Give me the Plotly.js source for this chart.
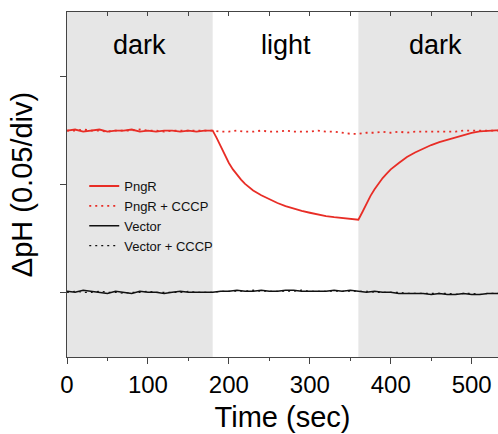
<!DOCTYPE html>
<html>
<head>
<meta charset="utf-8">
<script src="https://cdn.plot.ly/plotly-3.0.1.min.js"></script>
<style>html,body{margin:0;padding:0;background:#fff}#chart{width:498px;height:434px}</style>
</head>
<body>
<div id="chart"></div>
<script>
// Phases (sec)
const phaseNames = ["dark", "light", "dark"];
const phaseStart = [0, 180, 360];
const phaseEnd = [180, 360, 550];
const phaseShaded = [true, false, true];

// ΔpH in divisions (0.05 pH / div)
const pngrTime = [0,10,20,30,40,50,60,70,80,90,100,110,120,130,140,150,160,170,180,
  185,190,195,200,205,210,215,220,225,230,240,250,260,270,280,290,300,310,320,330,340,350,360,
  365,370,375,380,385,390,395,400,410,420,430,440,450,460,470,480,490,500,510,520,530,540];
const pngrVals = [1.50,1.51,1.49,1.50,1.51,1.49,1.50,1.50,1.51,1.49,1.50,1.49,1.50,1.50,1.49,1.50,1.49,1.50,1.50,
  1.43,1.35,1.27,1.20,1.14,1.09,1.045,1.005,0.972,0.945,0.900,0.862,0.828,0.800,0.775,0.755,0.738,0.721,0.707,0.697,0.687,0.677,0.673,
  0.745,0.825,0.895,0.955,1.01,1.06,1.10,1.14,1.20,1.255,1.297,1.333,1.366,1.393,1.416,1.438,1.458,1.478,1.492,1.500,1.502,1.503];

const cccpTime = [0,10,20,30,40,50,60,70,80,90,100,110,120,130,140,150,160,170,180,190,200,210,220,230,240,250,260,270,
  280,290,300,310,320,330,340,350,360,370,380,390,400,410,420,430,440,450,460,470,480,490,500,510,520,530,540];
const pngrCcccpVals = [1.50,1.50,1.51,1.50,1.50,1.49,1.50,1.50,1.50,1.51,1.50,1.50,1.49,1.50,1.50,1.50,1.50,1.50,1.50,1.49,1.49,1.50,1.49,1.49,1.50,1.49,1.49,1.50,
  1.49,1.49,1.49,1.50,1.49,1.49,1.48,1.47,1.47,1.48,1.48,1.49,1.48,1.49,1.48,1.49,1.49,1.49,1.49,1.49,1.49,1.50,1.50,1.50,1.50,1.50,1.50];

const vecTime = [0,10,20,30,40,50,60,70,80,90,100,110,120,130,140,150,160,170,180,190,200,210,220,230,240,250,260,270,
  280,290,300,310,320,330,340,350,360,370,380,390,400,410,420,430,440,450,460,470,480,490,500,510,520,530,540];
const vectorVals = [0.01,0.00,0.02,0.01,0.00,-0.01,0.01,0.00,-0.01,0.01,0.00,0.00,-0.01,0.00,0.01,0.00,0.00,0.00,0.00,0.01,0.01,0.02,0.01,0.01,0.02,0.01,0.01,0.02,
  0.02,0.01,0.01,0.01,0.01,0.02,0.01,0.02,0.01,0.00,0.01,0.00,0.00,-0.01,-0.01,-0.01,-0.01,-0.02,-0.01,-0.02,-0.02,-0.01,-0.02,-0.02,-0.01,-0.01,-0.01];
const vectorCcccpVals = [0.00,0.01,0.00,0.00,0.01,0.00,0.00,-0.01,0.00,0.00,0.01,0.00,0.00,0.00,0.00,0.01,0.00,0.00,0.00,0.01,0.01,0.01,0.01,0.02,0.01,0.01,0.01,0.01,
  0.01,0.02,0.01,0.01,0.01,0.01,0.01,0.01,0.01,0.01,0.00,0.00,0.00,0.00,-0.01,-0.01,-0.01,-0.01,-0.01,-0.01,-0.02,-0.01,-0.01,-0.02,-0.01,-0.01,-0.01];

const xTicks = [0,100,200,300,400,500];
const yTicks = [0,1,2];

const RED = "rgb(232,45,38)";
const FONT = "Liberation Sans, Arial, Helvetica, sans-serif";

const traces = [
  {x: pngrTime, y: pngrVals, name: "PngR", mode: "lines", line: {color: RED, width: 1.8}},
  {x: cccpTime, y: pngrCcccpVals, name: "PngR + CCCP", mode: "lines", line: {color: RED, width: 1.8, dash: "2px,4px"}},
  {x: vecTime, y: vectorVals, name: "Vector", mode: "lines", line: {color: "#111", width: 1.5}},
  {x: vecTime, y: vectorCcccpVals, name: "Vector + CCCP", mode: "lines", xaxis: "x2", line: {color: "#111", width: 1.2, dash: "2px,4px"}}
];

const shapes = [];
const annotations = [];
for (let i = 0; i < phaseNames.length; i++) {
  if (phaseShaded[i]) {
    shapes.push({type: "rect", xref: "x", yref: "paper", x0: phaseStart[i], x1: phaseEnd[i], y0: 0, y1: 1,
      fillcolor: "#e6e6e6", line: {width: 0}, layer: "below"});
  }
  annotations.push({text: phaseNames[i], xref: "x", yref: "paper", x: (phaseStart[i] + phaseEnd[i]) / 2, y: 0.955,
    showarrow: false, font: {family: FONT, size: 27, color: "#000"}});
}

const layout = {
  width: 498, height: 434,
  margin: {l: 67, r: 0, t: 12, b: 77},
  paper_bgcolor: "#fff", plot_bgcolor: "#fff",
  font: {family: FONT, color: "#000"},
  showlegend: true,
  legend: {x: 0.04, y: 0.539, xanchor: "left", yanchor: "top", bgcolor: "rgba(0,0,0,0)",
    font: {family: FONT, size: 13, color: "#111"}, itemwidth: 30, tracegroupgap: 0},
  xaxis: {range: [0, 532.5], tickvals: xTicks, ticks: "outside", ticklen: 6, tickwidth: 1, tickcolor: "#444",
    showline: true, linecolor: "#444", linewidth: 1, showgrid: false, zeroline: false,
    minor: {dtick: 50, ticks: "outside", ticklen: 3, tickcolor: "#444", showgrid: false},
    tickfont: {family: FONT, size: 24, color: "#000"},
    title: {text: "Time (sec)", font: {family: FONT, size: 29, color: "#000"}, standoff: 9}},
  xaxis2: {range: [0, 532.5], overlaying: "x", side: "top", anchor: "y", dtick: 50, tick0: 0,
    ticks: "inside", ticklen: 4, tickcolor: "#444", showticklabels: false,
    showline: true, linecolor: "#444", linewidth: 1, showgrid: false, zeroline: false},
  yaxis: {range: [-0.6, 2.6], tickvals: yTicks, ticks: "outside", ticklen: 6, tickcolor: "#444",
    showticklabels: false, showline: true, linecolor: "#444", linewidth: 1, showgrid: false, zeroline: false,
    title: {text: "ΔpH (0.05/div)", font: {family: FONT, size: 29, color: "#000"}, standoff: 18}},
  shapes: shapes,
  annotations: annotations
};

Plotly.newPlot("chart", traces, layout, {displayModeBar: false, staticPlot: true});
</script>
</body>
</html>
